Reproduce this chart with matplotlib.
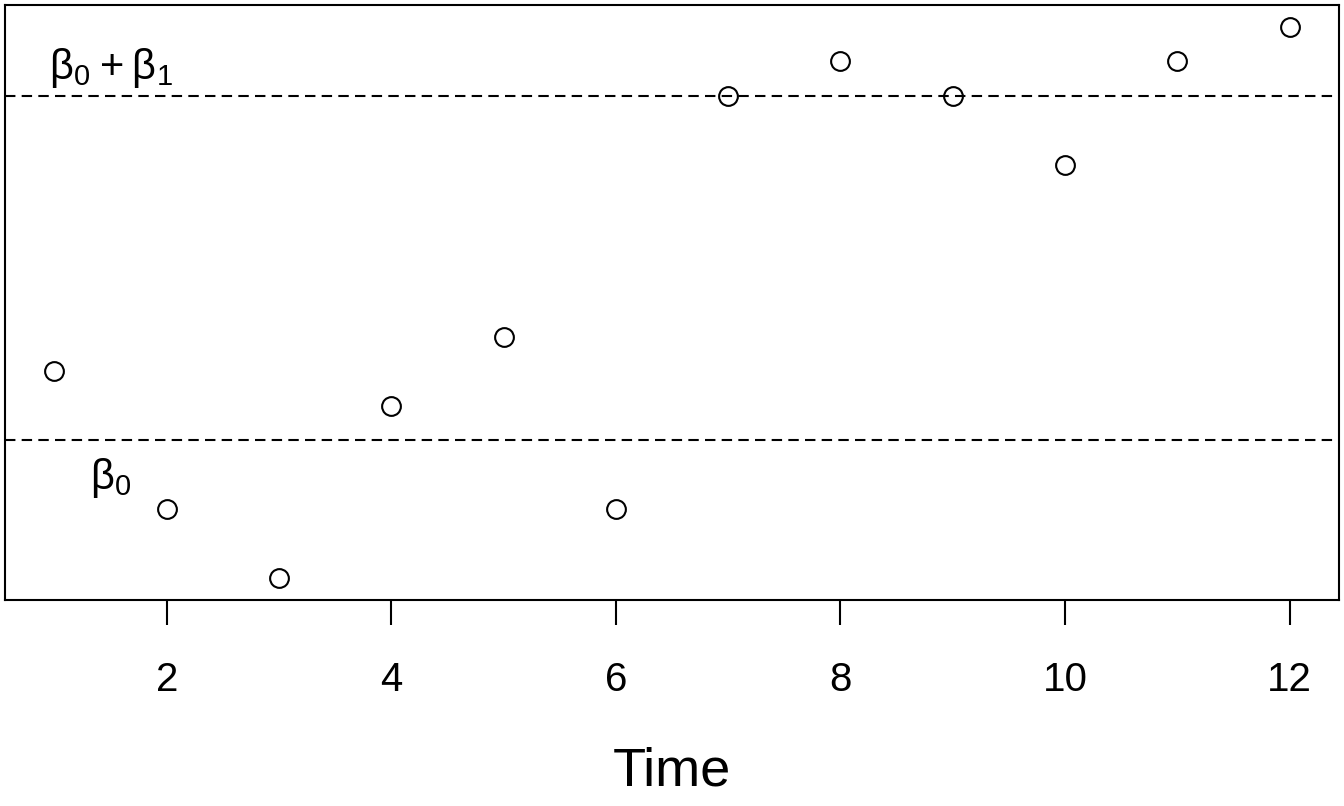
import matplotlib
matplotlib.use("Agg")
import matplotlib.pyplot as plt

plt.rcParams['font.family'] = ['Liberation Sans', 'DejaVu Sans']
plt.rcParams['mathtext.fontset'] = 'custom'
plt.rcParams['mathtext.rm'] = 'Liberation Sans'
plt.rcParams['mathtext.it'] = 'Liberation Sans'
plt.rcParams['mathtext.bf'] = 'Liberation Sans'

time = [1, 2, 3, 4, 5, 6, 7, 8, 9, 10, 11, 12]
values = [2, -2, -4, 1, 3, -2, 10, 11, 10, 8, 11, 12]
beta0 = 0
beta0_plus_beta1 = 10
xticks = [2, 4, 6, 8, 10, 12]

fig = plt.figure(figsize=(13.44, 8.06), dpi=100)
ax = fig.add_axes([5/1344, 1 - 600/806, 1334/1344, 595/806])

ax.plot(time, values, linestyle='none', marker='o', markersize=13.5,
        markerfacecolor='none', markeredgecolor='black', markeredgewidth=1.5, zorder=3)

for yv in (beta0, beta0_plus_beta1):
    ax.axhline(yv, color='black', linewidth=1.5, dashes=(5, 3), zorder=2)

ax.text(1.5, 10.8, 'β$_0$\u2009+\u2009β$_1$', fontsize=30, ha='center', va='center')
ax.text(1.5, -1.1, 'β$_0$', fontsize=30, ha='center', va='center')

xmin, xmax = min(time), max(time)
ymin, ymax = min(values), max(values)
dx = (xmax - xmin) * 0.04
dy = (ymax - ymin) * 0.04
ax.set_xlim(xmin - dx, xmax + dx)
ax.set_ylim(ymin - dy, ymax + dy)

ax.set_xticks(xticks)
ax.set_xticklabels([str(t) for t in xticks], fontsize=29)
ax.tick_params(axis='x', length=18, width=1.5, pad=26, direction='out')
ax.set_yticks([])
for s in ax.spines.values():
    s.set_linewidth(1.5)

ax.set_xlabel('Time', fontsize=39, labelpad=34)

fig.savefig('out.png', dpi=100)
